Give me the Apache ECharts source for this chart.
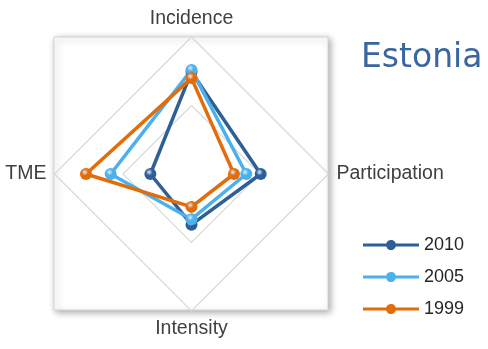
<!DOCTYPE html>
<html lang="en">
<head>
    <meta charset="UTF-8">
    <title>Estonia</title>
    <script src="https://cdn.jsdelivr.net/npm/echarts@6/dist/echarts.min.js"></script>
    <style>
        html, body { margin: 0; padding: 0; background: #fff; }
    </style>
</head>
<body>
<div id="radarChart" style="width: 488px;height: 349px;"></div>
<script type="text/javascript">
    // indicators, counter-clockwise from the top
    var axisNames = ['Incidence', 'TME', 'Intensity', 'Participation']
    var years = ['2010', '2005', '1999']
    var data2010 = [0.745, 0.30, 0.37, 0.505]
    var data2005 = [0.76, 0.59, 0.33, 0.40]
    var data1999 = [0.70, 0.77, 0.24, 0.31]
    var colors = ['#2f5f97', '#4bb0ec', '#e36c0a']

    var radarChart = echarts.init(document.getElementById("radarChart"))

    // little shiny ball for the markers
    function ball(c) {
        return new echarts.graphic.RadialGradient(0.4, 0.35, 0.7, [
            {offset: 0, color: '#dfefff'},
            {offset: 0.4, color: c},
            {offset: 1, color: c}
        ])
    }

    // legend icon: a line with a dot in the middle
    var lineDot = 'path://M0,5H23.2A5,5 0 0 1 32.8,5H56V8H32.8A5,5 0 0 1 23.2,8H0Z'

    var seriesData = [data2010, data2005, data1999]
    var series = []
    var legendData = []
    for (let i = 0; i < years.length; i++) {
        series.push({
            name: years[i],
            type: 'radar',
            symbol: 'circle',
            symbolSize: 12,
            lineStyle: {width: 3.5, color: colors[i]},
            itemStyle: {color: ball(colors[i])},
            data: [{value: seriesData[i], name: years[i]}]
        })
        legendData.push({name: years[i], icon: lineDot, itemStyle: {color: colors[i]}})
    }

    var indicator = []
    for (let i = 0; i < axisNames.length; i++) {
        indicator.push({name: axisNames[i], min: 0, max: 1})
    }

    var option = {
        animation: false,
        color: colors,
        textStyle: {fontFamily: 'Liberation Sans'},
        graphic: [
            {
                type: 'rect',
                z: -10,
                shape: {x: 54, y: 37, width: 274, height: 273},
                style: {
                    fill: '#ffffff',
                    stroke: '#d4d4d4',
                    lineWidth: 1,
                    shadowBlur: 7,
                    shadowColor: 'rgba(0,0,0,0.35)',
                    shadowOffsetX: 2,
                    shadowOffsetY: 2
                }
            },
            {
                type: 'text',
                left: 361,
                top: 42,
                style: {
                    text: 'Estonia',
                    fill: '#3a66a0',
                    font: '33px "DejaVu Sans"'
                }
            }
        ],
        legend: {
            orient: 'vertical',
            left: 363,
            top: 236,
            padding: 0,
            itemWidth: 56,
            itemHeight: 13,
            itemGap: 14,
            data: legendData,
            textStyle: {fontSize: 18, color: '#262626', fontFamily: 'Liberation Sans', padding: [0, 0, 0, 0]}
        },
        radar: {
            center: [191.5, 174],
            radius: 137,
            startAngle: 90,
            shape: 'polygon',
            splitNumber: 2,
            nameGap: 8,
            axisName: {color: '#404040', fontSize: 19.5, fontFamily: 'Liberation Sans'},
            axisLine: {show: false},
            axisTick: {show: false},
            axisLabel: {show: false},
            splitArea: {show: false},
            splitLine: {lineStyle: {color: '#d9d9d9', width: 1.2}},
            indicator: indicator
        },
        series: series
    }

    radarChart.setOption(option)
</script>
</body>
</html>
